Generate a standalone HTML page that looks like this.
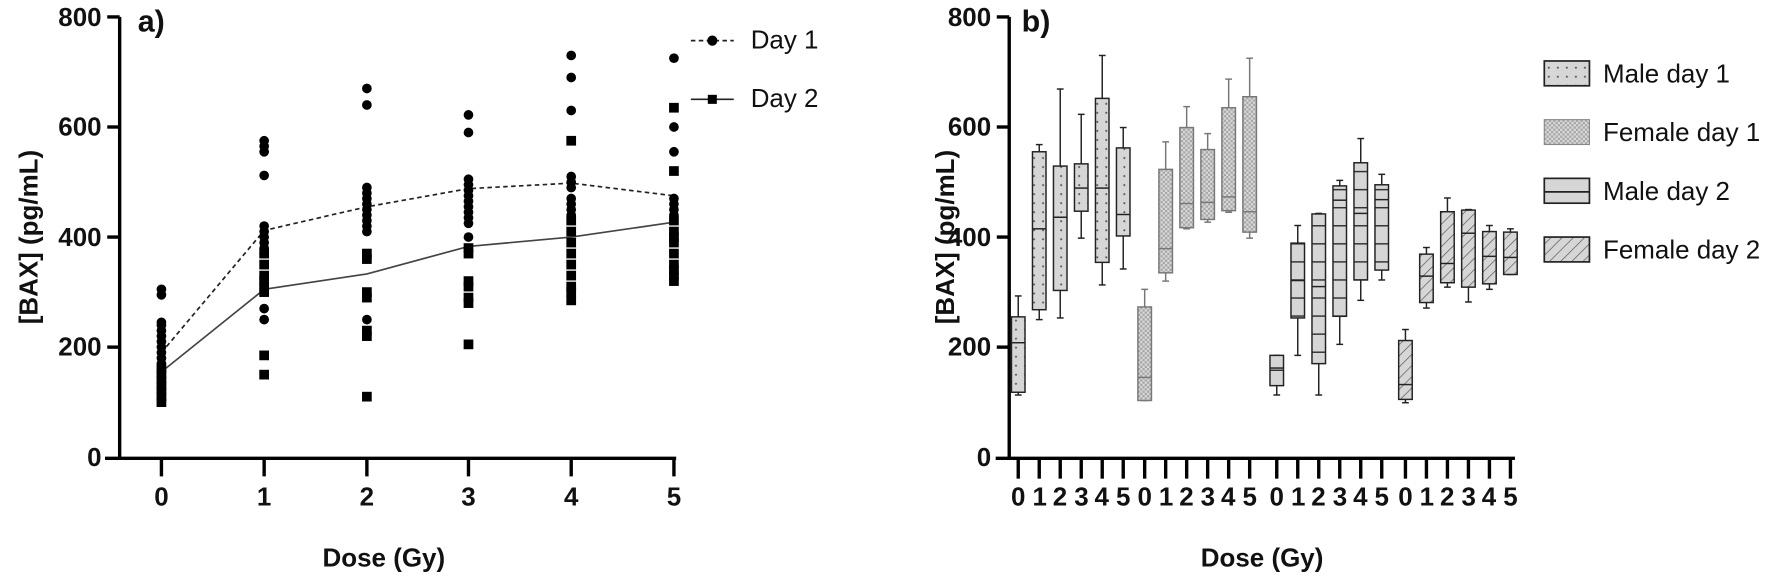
<!DOCTYPE html>
<html><head><meta charset="utf-8"><style>
html,body{margin:0;padding:0;background:#fff;}
svg{display:block;font-family:"Liberation Sans",sans-serif;}
.t{font-weight:bold;font-size:23px;fill:#111;}
.l{font-size:23px;fill:#111;}
</style></head><body>
<svg id="s" width="1770" height="579" viewBox="0 0 1770 579" xmlns="http://www.w3.org/2000/svg">
<defs>
<pattern id="pDot" width="8" height="8" patternUnits="userSpaceOnUse"><rect width="8" height="8" fill="#d6d6d6"/><circle cx="4" cy="4" r="0.9" fill="#555"/></pattern>
<pattern id="pChk" width="4" height="4" patternUnits="userSpaceOnUse"><rect width="4" height="4" fill="#a8a8a8"/><rect width="2" height="2" fill="#d8d8d8"/><rect x="2" y="2" width="2" height="2" fill="#d8d8d8"/></pattern>
<pattern id="pHor" width="8" height="16" patternUnits="userSpaceOnUse"><rect width="8" height="16" fill="#d6d6d6"/><line x1="0" y1="8" x2="8" y2="8" stroke="#333" stroke-width="1.3"/></pattern>
<pattern id="pDia" width="7" height="7" patternUnits="userSpaceOnUse" patternTransform="rotate(45)"><rect width="7" height="7" fill="#d6d6d6"/><line x1="0" y1="0" x2="0" y2="7" stroke="#555" stroke-width="1.2"/></pattern>
</defs>
<g transform="scale(1.12887)">
<!-- Panel a axes -->
<g stroke="#000" stroke-width="3" fill="none">
<line x1="106" y1="15" x2="106" y2="406"/>
<line x1="93" y1="406" x2="599" y2="406"/>
<line x1="95" y1="15" x2="106" y2="15"/><line x1="95" y1="112.5" x2="106" y2="112.5"/><line x1="95" y1="210" x2="106" y2="210"/><line x1="95" y1="307.5" x2="106" y2="307.5"/>
<line x1="143" y1="406" x2="143" y2="422"/><line x1="234" y1="406" x2="234" y2="422"/><line x1="325" y1="406" x2="325" y2="422"/><line x1="415" y1="406" x2="415" y2="422"/><line x1="506" y1="406" x2="506" y2="422"/><line x1="597" y1="406" x2="597" y2="422"/>
</g>
<g class="t" text-anchor="end">
<text x="90" y="23">800</text><text x="90" y="120">600</text><text x="90" y="218">400</text><text x="90" y="315">200</text><text x="90" y="413">0</text>
</g>
<g class="t" text-anchor="middle">
<text x="143" y="448">0</text><text x="234" y="448">1</text><text x="325" y="448">2</text><text x="415" y="448">3</text><text x="506" y="448">4</text><text x="597" y="448">5</text>
<text x="340" y="502">Dose (Gy)</text>
<text transform="translate(33,210) rotate(-90)">[BAX] (pg/mL)</text>
</g>
<text class="t" x="122" y="28" style="font-size:27px">a)</text>
<g stroke="#222" stroke-width="1.5">
<line x1="612" y1="36" x2="650" y2="36" stroke-dasharray="4,3"/>
<line x1="612" y1="88" x2="650" y2="88"/>
</g>
<circle cx="631" cy="36" r="4.5" fill="#000"/>
<rect x="627" y="84" width="8" height="8" fill="#000"/>
<text class="l" x="665" y="43">Day 1</text>
<text class="l" x="665" y="95">Day 2</text>
<g id="ga"></g>
<!-- Panel b axes -->
<g stroke="#000" stroke-width="3" fill="none">
<line x1="894" y1="15" x2="894" y2="406"/>
<line x1="882" y1="406" x2="1342" y2="406"/>
<line x1="883" y1="15" x2="894" y2="15"/><line x1="883" y1="112.5" x2="894" y2="112.5"/><line x1="883" y1="210" x2="894" y2="210"/><line x1="883" y1="307.5" x2="894" y2="307.5"/>
</g>
<g class="t" text-anchor="end">
<text x="878" y="23">800</text><text x="878" y="120">600</text><text x="878" y="218">400</text><text x="878" y="315">200</text><text x="878" y="413">0</text>
</g>
<g class="t" text-anchor="middle">
<text x="1118" y="502">Dose (Gy)</text>
<text transform="translate(845,210) rotate(-90)">[BAX] (pg/mL)</text>
</g>
<g class="t" text-anchor="middle">
<text x="902" y="448">0</text><text x="921" y="448">1</text><text x="939" y="448">2</text><text x="958" y="448">3</text><text x="976" y="448">4</text><text x="995" y="448">5</text>
<text x="1014" y="448">0</text><text x="1033" y="448">1</text><text x="1051" y="448">2</text><text x="1070" y="448">3</text><text x="1088" y="448">4</text><text x="1107" y="448">5</text>
<text x="1131" y="448">0</text><text x="1150" y="448">1</text><text x="1168" y="448">2</text><text x="1187" y="448">3</text><text x="1205" y="448">4</text><text x="1224" y="448">5</text>
<text x="1245" y="448">0</text><text x="1264" y="448">1</text><text x="1282" y="448">2</text><text x="1301" y="448">3</text><text x="1319" y="448">4</text><text x="1338" y="448">5</text>
</g>
<text class="t" x="905" y="28" style="font-size:27px">b)</text>
<g id="gb"></g>
<rect x="1368" y="54" width="40" height="22" fill="url(#pDot)" stroke="#222" stroke-width="1.5"/>
<rect x="1368" y="106" width="40" height="22" fill="url(#pChk)" stroke="#888" stroke-width="1"/>
<rect x="1368" y="158" width="40" height="22" fill="#d6d6d6" stroke="#222" stroke-width="1.5"/>
<line x1="1368" y1="170" x2="1408" y2="170" stroke="#222" stroke-width="1.5"/>
<rect x="1368" y="210" width="40" height="22" fill="url(#pDia)" stroke="#222" stroke-width="1.5"/>
<text class="l" x="1420" y="73">Male day 1</text>
<text class="l" x="1420" y="125">Female day 1</text>
<text class="l" x="1420" y="177">Male day 2</text>
<text class="l" x="1420" y="229">Female day 2</text>
</g>
</svg>
<script>
var NS="http://www.w3.org/2000/svg";
function Y(v){return 405-v*0.4875;}
function el(p,n,a){var e=document.createElementNS(NS,n);for(var k in a)e.setAttribute(k,a[k]);p.appendChild(e);return e;}
var ga=document.getElementById("ga");
var xs=[143,234,325,415,506,597];
var circ=[[305,295,240,230,220,210,200,190,180,170,245],[575,565,555,512,420,410,400,390,380,370,270,250],[670,640,490,480,470,460,450,440,430,420,410,250],[622,590,505,495,485,475,465,455,445,435,425,400],[730,690,630,510,500,490,470,460,450,440],[725,600,555,470,460,450,440]];
var sq=[[160,150,140,130,120,110,100],[370,350,330,320,310,300,185,150],[370,360,300,290,230,220,110],[380,370,320,310,290,280,205],[575,430,410,390,370,350,330,310,300,285],[635,520,430,410,400,390,370,350,340,330,320]];
var m1=[190,412,455,488,498,475],m2=[155,305,333,383,400,427];
var p1="",p2="";
for(var i=0;i<6;i++){p1+=(i?"L":"M")+xs[i]+","+Y(m1[i]);p2+=(i?"L":"M")+xs[i]+","+Y(m2[i]);}
el(ga,"path",{d:p1,stroke:"#222","stroke-width":1.5,fill:"none","stroke-dasharray":"4,3"});
el(ga,"path",{d:p2,stroke:"#444","stroke-width":1.5,fill:"none"});
for(var i=0;i<6;i++){circ[i].forEach(function(v){el(ga,"circle",{cx:xs[i],cy:Y(v),r:4.3,fill:"#000"});});
sq[i].forEach(function(v){el(ga,"rect",{x:xs[i]-4.3,y:Y(v)-4.3,width:8.6,height:8.6,fill:"#000"});});}
var gb=document.getElementById("gb");
var groups=[
{x0:902,fill:"url(#pDot)",st:"#222",d:[[293,255,208,118,113],[568,555,415,268,250],[669,529,436,303,253],[623,533,489,447,398],[730,652,489,354,313],[599,562,441,402,342]]},
{x0:1014,fill:"url(#pChk)",st:"#777",d:[[305,273,145,103,103],[573,523,379,335,320],[637,599,461,417,415],[588,559,463,432,427],[687,635,473,448,445],[725,655,446,409,398]]},
{x0:1131,fill:"url(#pHor)",st:"#222",d:[[185,185,162,130,113],[421,389,321,253,185],[443,442,310,170,113],[503,493,467,256,205],[579,535,443,322,285],[514,495,468,340,322]]},
{x0:1245,fill:"url(#pDia)",st:"#222",d:[[232,212,132,105,99],[381,369,329,281,271],[471,446,352,317,309],[450,449,407,309,282],[421,410,365,315,305],[415,409,363,332,332]]}];
groups.forEach(function(g){for(var i=0;i<6;i++){var x=g.x0+i*18.6,d=g.d[i],w=12;
el(gb,"line",{x1:x,y1:406,x2:x,y2:424,stroke:"#000","stroke-width":3});
el(gb,"line",{x1:x,y1:Y(d[0]),x2:x,y2:Y(d[4]),stroke:g.st,"stroke-width":1.3});
el(gb,"line",{x1:x-3,y1:Y(d[0]),x2:x+3,y2:Y(d[0]),stroke:g.st,"stroke-width":1.3});
el(gb,"line",{x1:x-3,y1:Y(d[4]),x2:x+3,y2:Y(d[4]),stroke:g.st,"stroke-width":1.3});
el(gb,"rect",{x:x-w/2,y:Y(d[1]),width:w,height:Y(d[3])-Y(d[1]),fill:g.fill,stroke:g.st,"stroke-width":1.3});
el(gb,"line",{x1:x-w/2,y1:Y(d[2]),x2:x+w/2,y2:Y(d[2]),stroke:g.st,"stroke-width":1.3});}});
</script>
</body></html>
